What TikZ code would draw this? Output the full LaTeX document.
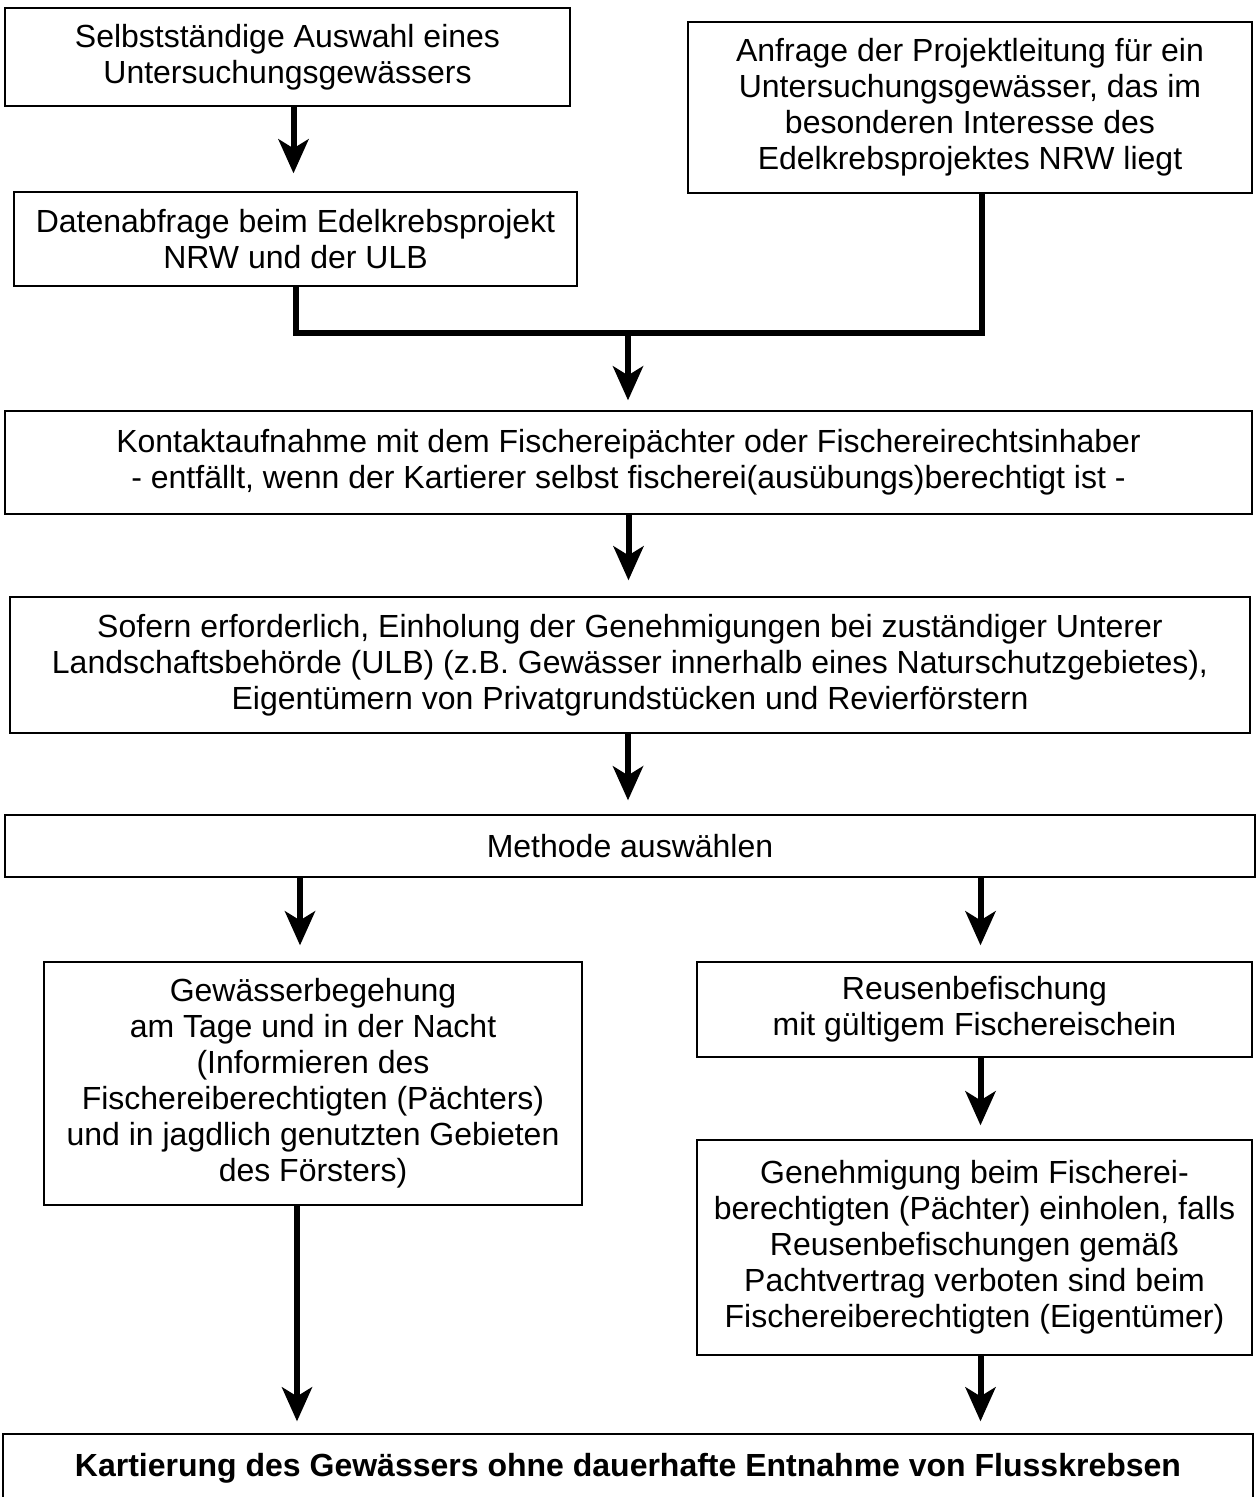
\documentclass[tikz,border=0pt]{standalone}
\usepackage{fontspec}
\setmainfont{Liberation Sans}
\usetikzlibrary{arrows.meta,calc}
\begin{document}
\begin{tikzpicture}[x=1pt,y=-1pt,
  box/.style={draw,line width=1.3pt,align=center,inner sep=0pt,
    font=\fontsize{32}{36}\selectfont},
  conn/.style={line width=6pt},
  arr/.style={line width=6pt,-{Stealth[length=34pt,width=30pt,inset=9pt]}}]
\useasboundingbox (0,0) rectangle (1256,1497);
\node[box,minimum width=565,minimum height=98] (A) at (287.5,57) {Selbstständige Auswahl eines\\Untersuchungsgewässers};
\node[box,minimum width=563,minimum height=94] (B) at (295.5,239) {Datenabfrage beim Edelkrebsprojekt\\NRW und der ULB};
\node[box,minimum width=564,minimum height=171] (C) at (970,107.5) {Anfrage der Projektleitung für ein\\Untersuchungsgewässer, das im\\besonderen Interesse des\\Edelkrebsprojektes NRW liegt};
\node[box,minimum width=1247,minimum height=103] (D) at (628.5,462.5) {Kontaktaufnahme mit dem Fischereipächter oder Fischereirechtsinhaber\\- entfällt, wenn der Kartierer selbst fischerei(ausübungs)berechtigt ist -};
\node[box,minimum width=1240,minimum height=136] (E) at (630,665) {Sofern erforderlich, Einholung der Genehmigungen bei zuständiger Unterer\\Landschaftsbehörde (ULB) (z.B. Gewässer innerhalb eines Naturschutzgebietes),\\Eigentümern von Privatgrundstücken und Revierförstern};
\node[box,minimum width=1250,minimum height=62] (F) at (630,846) {Methode auswählen};
\node[box,minimum width=538,minimum height=243] (G) at (313,1083.5) {Gewässerbegehung\\am Tage und in der Nacht\\(Informieren des\\Fischereiberechtigten (Pächters)\\und in jagdlich genutzten Gebieten\\des Försters)};
\node[box,minimum width=555,minimum height=95] (H) at (974.5,1009.5) {Reusenbefischung\\mit gültigem Fischereischein};
\node[box,minimum width=555,minimum height=215] (I) at (974.5,1247.5) {Genehmigung beim Fischerei-\\berechtigten (Pächter) einholen, falls\\Reusenbefischungen gemäß\\Pachtvertrag verboten sind beim\\Fischereiberechtigten (Eigentümer)};
\node[box,minimum width=1250,minimum height=68,font=\fontsize{32}{36}\selectfont\bfseries] (J) at (628,1468) {Kartierung des Gewässers ohne dauerhafte Entnahme von Flusskrebsen};
% connectors
\coordinate (j) at (628,333);
\draw[arr,shorten >=18pt] ([xshift=6]A.south) -- ([xshift=-2]B.north);
\draw[conn] (B.south) |- (j) -| ([xshift=12]C.south);
\draw[arr,shorten >=10pt] ([yshift=-3]j) -- (j |- D.north);
\draw[arr,shorten >=16pt] (D.south) -- (D.south |- E.north);
\draw[arr,shorten >=14pt] ([xshift=-2]E.south) -- ([xshift=-2]E.south |- F.north);
\draw[arr,shorten >=16pt] ([xshift=-13]G.north |- F.south) -- ([xshift=-13]G.north);
\draw[arr,shorten >=16pt] ([xshift=6]H.north |- F.south) -- ([xshift=6]H.north);
\draw[arr,shorten >=14pt] ([xshift=6]H.south) -- ([xshift=6]I.north);
\draw[arr,shorten >=12pt] ([xshift=-16]G.south) -- ([xshift=-16]G.south |- J.north);
\draw[arr,shorten >=12pt] ([xshift=6]I.south) -- ([xshift=6]I.south |- J.north);
\end{tikzpicture}
\end{document}
